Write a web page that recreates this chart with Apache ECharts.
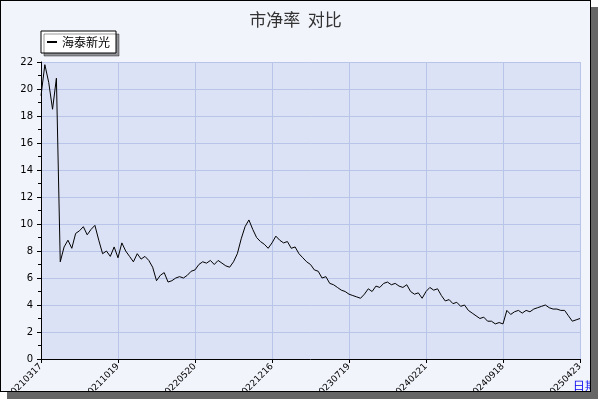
<!DOCTYPE html>
<html><head><meta charset="utf-8">
<script src="https://cdn.jsdelivr.net/npm/echarts@6/dist/echarts.min.js"></script>
<style>
html,body{margin:0;padding:0;background:#fff;}
#c{position:absolute;left:0;top:0;width:591px;height:392px;background:#f2f4fc;border:1px solid #000;box-sizing:border-box;box-shadow:7px 7px 0 #666;}
</style></head><body>
<div id="c"></div>
<script>
var tickDates=['20210317','20211019','20220520','20221216','20230719','20240221','20240918','20250423'];
var values=[19.5,21.8,20.5,18.5,20.8,7.2,8.3,8.8,8.2,9.3,9.5,9.8,9.2,9.6,9.9,8.8,7.8,8.0,7.6,8.3,
7.5,8.6,8.0,7.6,7.2,7.8,7.4,7.6,7.3,6.8,5.8,6.2,6.4,5.7,5.8,6.0,6.1,6.0,6.2,6.5,
6.6,7.0,7.2,7.1,7.3,7.0,7.3,7.1,6.9,6.8,7.2,7.8,8.9,9.8,10.3,9.6,9.0,8.7,8.5,8.2,
8.6,9.1,8.8,8.6,8.7,8.2,8.3,7.8,7.5,7.2,7.0,6.6,6.5,6.0,6.1,5.6,5.5,5.3,5.1,5.0,
4.8,4.7,4.6,4.5,4.8,5.2,5.0,5.4,5.3,5.6,5.7,5.5,5.6,5.4,5.3,5.5,5.0,4.8,4.9,4.5,
5.0,5.3,5.1,5.2,4.7,4.3,4.4,4.1,4.2,3.9,4.0,3.6,3.4,3.2,3.0,3.1,2.8,2.8,2.6,2.7,
2.6,3.6,3.3,3.5,3.6,3.4,3.6,3.5,3.7,3.8,3.9,4.0,3.8,3.7,3.7,3.6,3.6,3.2,2.8,2.9,3.0];
var step=20;
var cats=values.map(function(v,i){return i%step===0?tickDates[i/step]:'';});
var ch=echarts.init(document.getElementById('c'));
ch.setOption({
 animation:false,
 title:{text:'市净率  对比',left:'center',top:5,textStyle:{fontSize:17,fontWeight:'normal',color:'#333',fontFamily:'Noto Sans CJK SC'}},
 legend:{data:['海泰新光'],left:40,top:30,orient:'vertical',backgroundColor:'#fff',borderColor:'#000',borderWidth:1,padding:[5,6],itemWidth:10,itemHeight:2,
   shadowColor:'rgba(0,0,0,0.4)',shadowOffsetX:3,shadowOffsetY:3,shadowBlur:0,
   textStyle:{fontSize:12,color:'#000',fontFamily:'Noto Sans CJK SC'},icon:'rect'},
 grid:{left:40,top:61,width:539,height:297,containLabel:false,outerBoundsMode:'none',backgroundColor:'#dce2f6',show:true,borderWidth:0},
 xAxis:{type:'category',data:cats,boundaryGap:false,
   axisLine:{lineStyle:{color:'#000'}},
   axisTick:{show:true,length:4,interval:function(i){return i%step===0;},lineStyle:{color:'#000'}},
   axisLabel:{interval:function(i){return i%step===0;},rotate:45,fontSize:9,color:'#000',margin:6,fontFamily:'DejaVu Sans'},
   splitLine:{show:true,interval:function(i){return i%step===0;},lineStyle:{color:'#b8c4e8'}},
   name:'日期',nameLocation:'end',nameGap:-22,nameTextStyle:{color:'#0000ee',fontSize:12,padding:[22,0,0,0],verticalAlign:'top'}},
 yAxis:{type:'value',min:0,max:22,interval:2,
   axisLine:{show:true,lineStyle:{color:'#000'}},
   axisTick:{show:true,length:4,inside:false,lineStyle:{color:'#000'}},
   minorTick:{show:true,splitNumber:2,length:3,lineStyle:{color:'#000'}},
   axisLabel:{fontSize:10,color:'#000',fontFamily:'DejaVu Sans'},
   splitLine:{lineStyle:{color:'#b8c4e8'}}},
 series:[{name:'海泰新光',type:'line',data:values,symbol:'none',lineStyle:{color:'#000',width:1},itemStyle:{color:'#000'}}]
});
</script></body></html>
